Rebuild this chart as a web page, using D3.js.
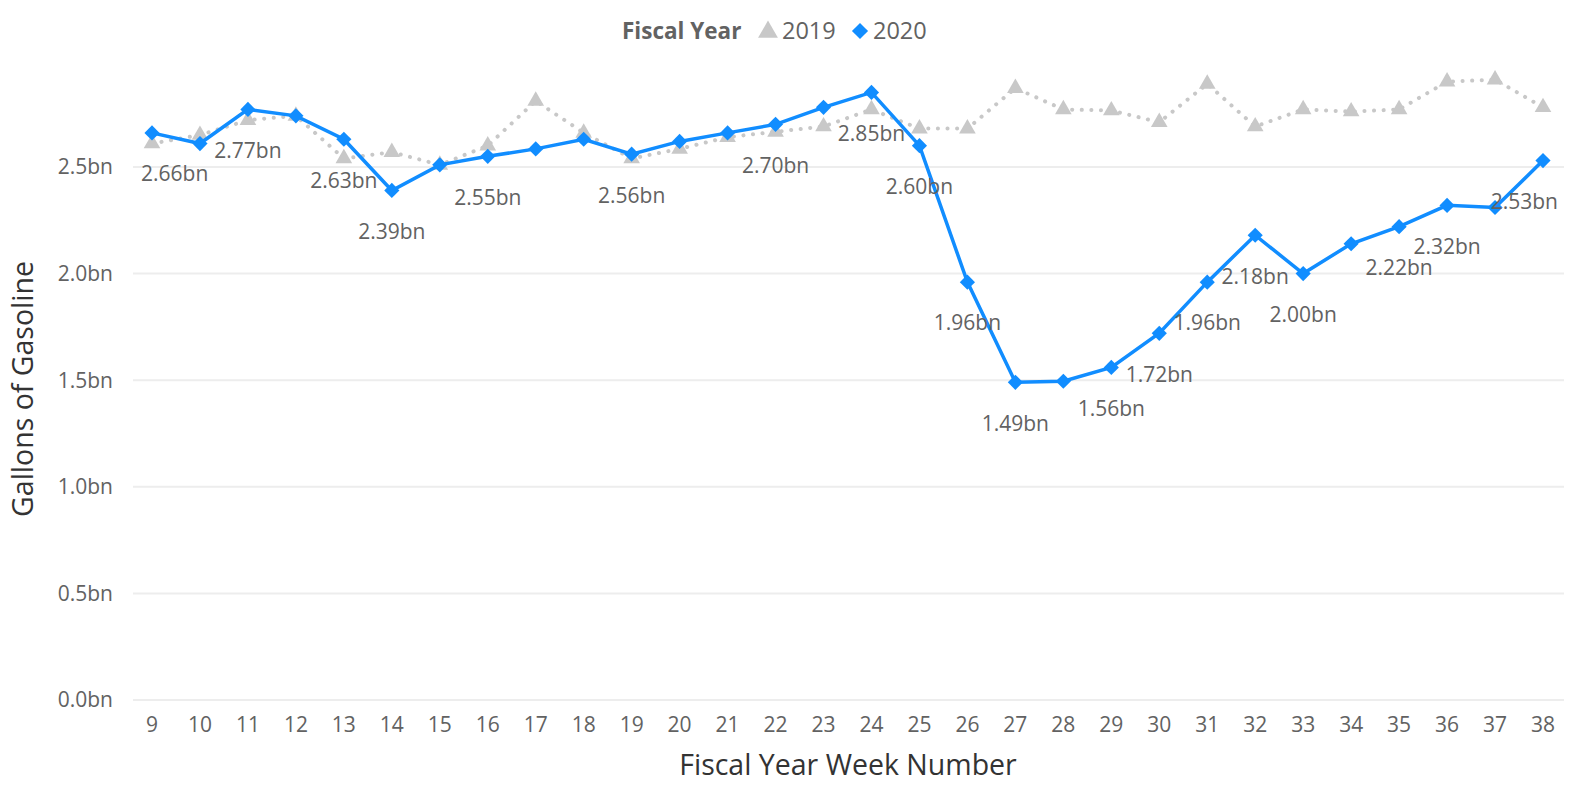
<!DOCTYPE html>
<html>
<head>
<meta charset="utf-8">
<script src="https://cdn.jsdelivr.net/npm/d3@7"></script>
<style>
  body { margin: 0; background: #fff; }
  svg text { font-family: "Segoe UI", "Open Sans", sans-serif; fill: #626262; }
</style>
</head>
<body>
<div id="chart"></div>
<script>
const weeks = [9, 10, 11, 12, 13, 14, 15, 16, 17, 18, 19, 20, 21, 22, 23, 24, 25, 26, 27, 28, 29, 30, 31, 32, 33, 34, 35, 36, 37, 38];
const values2019 = [2.61, 2.65, 2.72, 2.74, 2.54, 2.57, 2.51, 2.60, 2.81, 2.66, 2.54, 2.585, 2.64, 2.665, 2.69, 2.77, 2.68, 2.68, 2.87, 2.77, 2.765, 2.71, 2.89, 2.69, 2.77, 2.76, 2.77, 2.90, 2.91, 2.78];
const values2020 = [2.66, 2.61, 2.77, 2.74, 2.63, 2.39, 2.51, 2.55, 2.585, 2.63, 2.56, 2.62, 2.66, 2.70, 2.78, 2.85, 2.60, 1.96, 1.49, 1.495, 1.56, 1.72, 1.96, 2.18, 2.00, 2.14, 2.22, 2.32, 2.31, 2.53];
const labelledWeeks = [9, 11, 13, 14, 16, 19, 22, 24, 25, 26, 27, 29, 30, 31, 32, 33, 35, 36, 38];
const yTicks = [0, 0.5, 1.0, 1.5, 2.0, 2.5];

const width = 1578,
  height = 790,
  blue = "#118DFF",
  grey = "#C8C8C8",
  plotLeft = 141,
  plotRight = 1558;

const svg = d3.select("#chart").append("svg").attr("width", width).attr("height", height);

const x = d3.scalePoint().domain(weeks).range([152, 1543]);
const y = d3.scaleLinear().domain([0, 3]).range([700, 60.4]);

// gridlines + y labels
svg.append("g")
  .selectAll("line")
  .data(yTicks)
  .join("line")
  .attr("x1", 133)
  .attr("x2", 1564)
  .attr("y1", (d) => y(d))
  .attr("y2", (d) => y(d))
  .attr("stroke", "#EDEDED")
  .attr("stroke-width", 2);

svg.append("g")
  .selectAll("text")
  .data(yTicks)
  .join("text")
  .attr("x", 113)
  .attr("y", (d) => y(d))
  .attr("dy", "0.35em")
  .attr("text-anchor", "end")
  .attr("font-size", 21)
  .text((d) => d.toFixed(1) + "bn");

// x tick labels
svg.append("g")
  .selectAll("text")
  .data(weeks)
  .join("text")
  .attr("x", (d) => x(d))
  .attr("y", 725)
  .attr("dy", "0.35em")
  .attr("text-anchor", "middle")
  .attr("font-size", 21)
  .text((d) => d);

// axis titles
svg.append("text")
  .attr("x", 848)
  .attr("y", 765)
  .attr("dy", "0.35em")
  .attr("text-anchor", "middle")
  .attr("font-size", 28.5)
  .style("fill", "#333")
  .text("Fiscal Year Week Number");

svg.append("text")
  .attr("transform", "translate(23, 389) rotate(-90)")
  .attr("dy", "0.35em")
  .attr("text-anchor", "middle")
  .attr("font-size", 28.5)
  .style("fill", "#333")
  .text("Gallons of Gasoline");

const line = d3.line().x((d) => x(d.w)).y((d) => y(d.v));
const data2019 = weeks.map((w, i) => ({ w: w, v: values2019[i] }));
const data2020 = weeks.map((w, i) => ({ w: w, v: values2020[i] }));

// 2019 dotted line + triangles
svg.append("path")
  .attr("d", line(data2019))
  .attr("fill", "none")
  .attr("stroke", grey)
  .attr("stroke-width", 4)
  .attr("stroke-linecap", "round")
  .attr("stroke-dasharray", "0.1 9.5");

const tri = d3.symbol().type(d3.symbolTriangle).size(120);
svg.append("g")
  .selectAll("path")
  .data(data2019)
  .join("path")
  .attr("d", tri)
  .attr("transform", (d) => `translate(${x(d.w)},${y(d.v)})`)
  .attr("fill", grey);

// 2020 line + diamonds
svg.append("path")
  .attr("d", line(data2020))
  .attr("fill", "none")
  .attr("stroke", blue)
  .attr("stroke-width", 3.5);

const diamond = d3.symbol().type(d3.symbolSquare).size(115);
svg.append("g")
  .selectAll("path")
  .data(data2020)
  .join("path")
  .attr("d", diamond)
  .attr("transform", (d) => `translate(${x(d.w)},${y(d.v)}) rotate(45)`)
  .attr("fill", blue);

// data labels, kept inside the plot area
svg.append("g")
  .selectAll("text")
  .data(data2020.filter((d) => labelledWeeks.includes(d.w)))
  .join("text")
  .attr("x", (d) => x(d.w))
  .attr("y", (d) => y(d.v) + 41)
  .attr("dy", "0.35em")
  .attr("text-anchor", "middle")
  .attr("font-size", 21)
  .text((d) => d.v.toFixed(2) + "bn")
  .each(function (d) {
    const half = this.getBBox().width / 2;
    const cx = Math.max(plotLeft + half, Math.min(plotRight - half, x(d.w)));
    d3.select(this).attr("x", cx);
  });

// legend
const legend = svg.append("g");
legend.append("text")
  .attr("x", 622)
  .attr("y", 31)
  .attr("dy", "0.35em")
  .attr("font-size", 22.5)
  .attr("font-weight", "bold")
  .text("Fiscal Year");
legend.append("path")
  .attr("d", d3.symbol().type(d3.symbolTriangle).size(170))
  .attr("transform", "translate(768,32)")
  .attr("fill", grey);
legend.append("text")
  .attr("x", 782)
  .attr("y", 31)
  .attr("dy", "0.35em")
  .attr("font-size", 23.5)
  .text("2019");
legend.append("path")
  .attr("d", d3.symbol().type(d3.symbolSquare).size(130))
  .attr("transform", "translate(860,31) rotate(45)")
  .attr("fill", blue);
legend.append("text")
  .attr("x", 873)
  .attr("y", 31)
  .attr("dy", "0.35em")
  .attr("font-size", 23.5)
  .text("2020");
</script>
</body>
</html>
